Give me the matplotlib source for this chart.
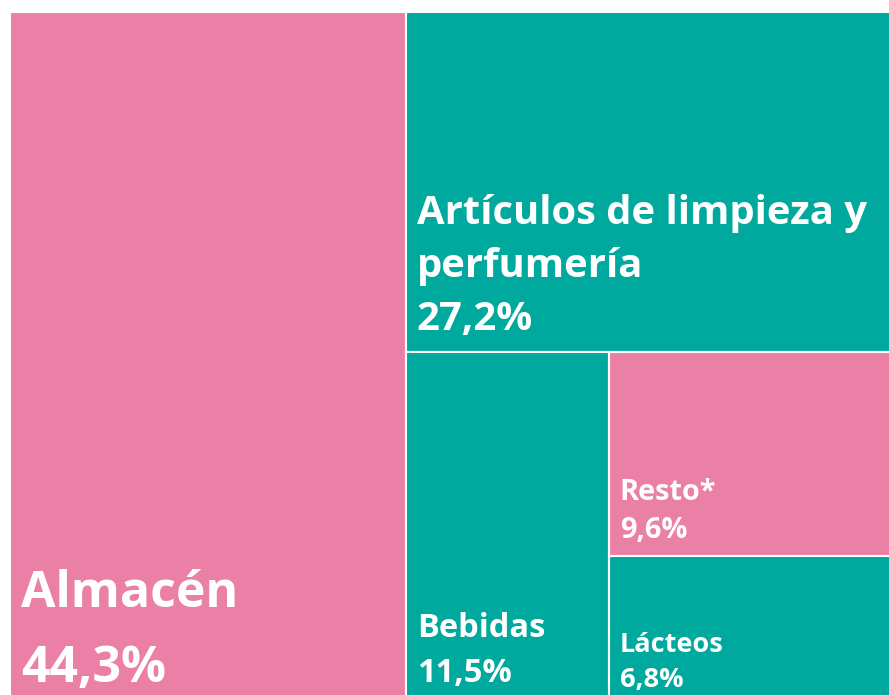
import matplotlib
matplotlib.use("Agg")
import matplotlib.pyplot as plt
from matplotlib.patches import Rectangle

categories = ["Almacén", "Artículos de limpieza y\nperfumería", "Bebidas", "Resto*", "Lácteos"]
values = [44.3, 27.2, 11.5, 9.6, 6.8]
labels_pct = ["44,3%", "27,2%", "11,5%", "9,6%", "6,8%"]

PINK = "#EB80A7"
TEAL = "#00A99D"
colors = [PINK, TEAL, TEAL, PINK, TEAL]
fsizes = [36, 28.8, 23.5, 20.8, 19.5]
line_gaps = [75, 53, 45, 38, 35]   # px between baselines
bottom_pads = [18, 22, 18, 18, 13]  # px from rect bottom to last baseline

W_PX, H_PX = 889, 695
fig = plt.figure(figsize=(W_PX / 100, H_PX / 100), dpi=100)
ax = fig.add_axes([0, 0, 1, 1])
ax.set_xlim(0, W_PX)
ax.set_ylim(H_PX, 0)
ax.axis("off")

# treemap region (extends slightly past the canvas on right/bottom)
X0, Y0, X1, Y1 = 10, 12, 898, 700
W, H = X1 - X0, Y1 - Y0
total = sum(values)

rects = []
wa = W * values[0] / total
rects.append((X0, Y0, wa, H))
xr = X0 + wa
wr = W - wa
rest = total - values[0]
ha = H * values[1] / rest
rects.append((xr, Y0, wr, ha))
yb = Y0 + ha
hb = H - ha
rest2 = rest - values[1]
wb = wr * values[2] / rest2
rects.append((xr, yb, wb, hb))
xs = xr + wb
ws = wr - wb
rest3 = rest2 - values[2]
hr = hb * values[3] / rest3
rects.append((xs, yb, ws, hr))
rects.append((xs, yb + hr, ws, hb - hr))

for (x, y, w, h), c, cat, pct, fs, gap, pb in zip(rects, colors, categories, labels_pct,
                                                  fsizes, line_gaps, bottom_pads):
    ax.add_patch(Rectangle((x, y), w, h, facecolor=c, edgecolor="white", linewidth=1.5))
    lines = cat.split("\n") + [pct]
    base = y + h - pb
    for i, ln in enumerate(reversed(lines)):
        ax.text(x + 11, base - i * gap, ln, color="white",
                fontsize=fs, fontweight="bold", family="Open Sans",
                ha="left", va="baseline")

fig.savefig("out.png", dpi=100, facecolor="white")
